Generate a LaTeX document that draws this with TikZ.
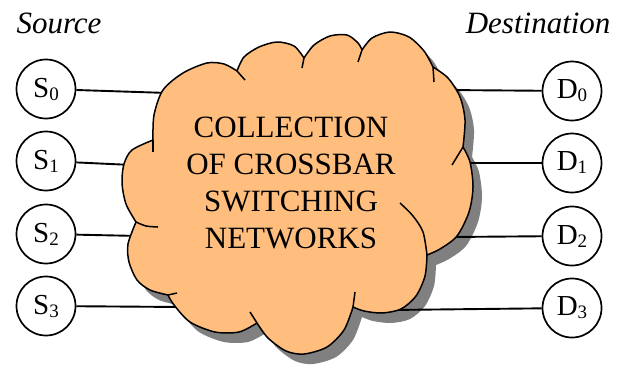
\documentclass[tikz,border=0pt]{standalone}
\usepackage{fontspec}
\setmainfont{Liberation Serif}
\definecolor{cloudorange}{RGB}{255,190,125}
\definecolor{shadowgray}{RGB}{128,128,128}
\newcommand\lowidx[1]{\raisebox{-3pt}{\fontsize{19}{19}\selectfont #1}}
\def\cloudpath{plot[smooth] coordinates {(153,140) (154,115) (163,90) (183,73) (207,63) (224,64) (237,71)}
 -- plot[smooth] coordinates {(237,71) (244,57) (259,47) (277,42) (294,46) (304,58)}
 -- plot[smooth] coordinates {(304,58) (314,45) (330,36) (347,35) (358,43) (362,50)}
 -- plot[smooth] coordinates {(362,50) (372,38) (390,32) (409,37) (424,51) (433,67)}
 -- plot[smooth] coordinates {(433,67) (448,78) (460,97) (465,120) (463,147)}
 -- plot[smooth] coordinates {(463,147) (470,162) (473,187) (469,212) (457,236) (440,249) (427,255)}
 -- plot[smooth] coordinates {(427,255) (425,276) (416,296) (401,309) (382,313) (364,311) (353,307)}
 -- plot[smooth] coordinates {(353,307) (344,330) (327,347) (304,354) (286,351) (268,338) (257,323)}
 -- plot[smooth] coordinates {(257,323) (239,332) (215,332) (190,322) (174,305) (168,295)}
 -- plot[smooth] coordinates {(168,295) (150,290) (137,280) (129,262) (128,244) (136,222)}
 -- plot[smooth] coordinates {(136,222) (126,204) (122,183) (124,164) (132,150) (153,140)}
 -- cycle}
\begin{document}
\begin{tikzpicture}[x=1pt,y=-1pt,
  station/.style={circle,draw,line width=1.7pt,minimum size=59pt,inner sep=0pt,
    font=\fontsize{29}{29}\selectfont},
  link/.style={line width=1.9pt},
  cloudline/.style={line width=1.5pt,line join=round},
  heading/.style={font=\fontsize{31}{31}\selectfont\itshape}]
\useasboundingbox (0,0) rectangle (617,367);

% headings
\node[heading,anchor=base west] (src) at (13,33) {Source};
\node[heading,anchor=base east] (dst) at (614,33) {Destination};

% stations
\node[station] (s0) at (46,89) {S\lowidx{0}};
\node[station] (s1) at (46,161) {S\lowidx{1}};
\node[station] (s2) at (46,234) {S\lowidx{2}};
\node[station] (s3) at (46,306) {S\lowidx{3}};
\node[station] (d0) at (572,91) {D\lowidx{0}};
\node[station] (d1) at (572,163) {D\lowidx{1}};
\node[station] (d2) at (572,236) {D\lowidx{2}};
\node[station] (d3) at (572,308) {D\lowidx{3}};

% cloud shadow
\begin{scope}[shift={(9,10)}]
\fill[shadowgray] \cloudpath;
\end{scope}

% connection end points inside the cloud
\coordinate (c0) at (168,93);
\coordinate (c1) at (132,165);
\coordinate (c2) at (140,236);
\coordinate (c3) at (182,307);
\coordinate (e0) at (445,90);
\coordinate (e1) at (460,163);
\coordinate (e2) at (450,237);
\coordinate (e3) at (390,310);

\draw[link] (s0) -- (c0);
\draw[link] (s1) -- (c1);
\draw[link] (s2) -- (c2);
\draw[link] (s3) -- (c3);
\draw[link] (d0) -- (e0);
\draw[link] (d1) -- (e1);
\draw[link] (d2) -- (e2);
\draw[link] (d3) -- (e3);

% cloud
\fill[cloudorange] \cloudpath;
\draw[cloudline] \cloudpath;

% inner notch strokes
\draw[cloudline] (153,140) -- (153,152);
\draw[cloudline] (237,71) -- (245,80);
\draw[cloudline] (304,58) -- (302,68);
\draw[cloudline] (362,50) -- (358,62);
\draw[cloudline] (433,67) -- (434,82);
\draw[cloudline] (463,147) -- (452,165);
\draw[cloudline] plot[smooth] coordinates {(427,255) (423,232) (413,216) (400,203)};
\draw[cloudline] (353,307) -- (355,292);
\draw[cloudline] (257,323) -- (250,312);
\draw[cloudline] (168,295) -- (177,293);
\draw[cloudline] plot[smooth] coordinates {(136,222) (146,226) (158,227)};

% cloud text
\node[align=center,font=\fontsize{31}{36.7}\selectfont] (net) at (291,183)
  {COLLECTION\\OF CROSSBAR\\SWITCHING\\NETWORKS};
\end{tikzpicture}
\end{document}
